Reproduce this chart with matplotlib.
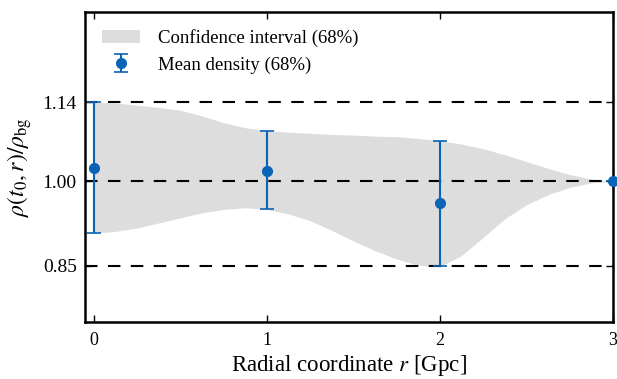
import matplotlib
matplotlib.use("Agg")
import matplotlib.pyplot as plt
import numpy as np

plt.rcParams['font.family'] = ['Liberation Serif', 'DejaVu Serif']
plt.rcParams['mathtext.fontset'] = 'stix'

# mean density with 68% errors
r_pts = [0, 1, 2, 3]
rho_mean = [1.023, 1.019, 0.961, 1.000]
err_lo = [0.115, 0.069, 0.111, 0.0]
err_hi = [0.117, 0.071, 0.110, 0.0]

# confidence band
r_band = [0, 0.125, 0.25, 0.375, 0.5, 0.625, 0.75, 0.875, 1.0, 1.125, 1.25, 1.375,
          1.5, 1.625, 1.75, 1.875, 2.0, 2.125, 2.25, 2.375, 2.5, 2.625, 2.75, 2.875, 3.0]
band_hi = [1.140, 1.139, 1.135, 1.131, 1.126, 1.116, 1.104, 1.095, 1.090, 1.087, 1.085, 1.083,
           1.082, 1.080, 1.079, 1.076, 1.072, 1.066, 1.058, 1.047, 1.035, 1.023, 1.012, 1.004, 1.000]
band_lo = [0.908, 0.911, 0.917, 0.926, 0.935, 0.944, 0.950, 0.953, 0.950, 0.942, 0.930, 0.913,
           0.894, 0.877, 0.862, 0.851, 0.848, 0.868, 0.900, 0.933, 0.958, 0.976, 0.989, 0.997, 1.000]

ref_lines = [1.14, 1.00, 0.85]

fig = plt.figure(figsize=(6.17, 3.79), dpi=100)
ax = fig.add_axes([0.138, 0.150, 0.855, 0.818])

ax.fill_between(r_band, band_lo, band_hi, color='#dddddd', lw=0,
                label='Confidence interval (68%)')
for y in ref_lines:
    ax.axhline(y, color='k', lw=1.5, dashes=(6, 5), zorder=1.5)
ax.errorbar(r_pts, rho_mean, yerr=[err_lo, err_hi], fmt='o', color='#0b63b3',
            ms=7, lw=1.5, capsize=5, capthick=1.2, zorder=3, clip_on=False,
            label='Mean density (68%)')

ax.set_xlim(-0.05, 3.0)
ax.set_ylim(0.75, 1.30)
ax.set_xticks([0, 1, 2, 3])
ax.set_yticks(ref_lines)
ax.set_yticklabels(['1.14', '1.00', '0.85'])
ax.tick_params(direction='in', top=True, right=True, length=5, width=1)
ax.tick_params(axis='x', labelsize=13, pad=7)
ax.tick_params(axis='y', labelsize=14, pad=6)
for s in ax.spines.values():
    s.set_linewidth(1.8)

ax.set_xlabel('Radial coordinate $r$ [Gpc]', fontsize=16.5, labelpad=3)
ax.set_ylabel(r'$\rho(t_0,r)/\rho_{\rm bg}$', fontsize=17, labelpad=6)

ax.legend(loc='upper left', frameon=False, fontsize=13.5, handlelength=2.0,
          borderaxespad=0.5, handletextpad=1.0)

fig.savefig('out.png', dpi=100)
